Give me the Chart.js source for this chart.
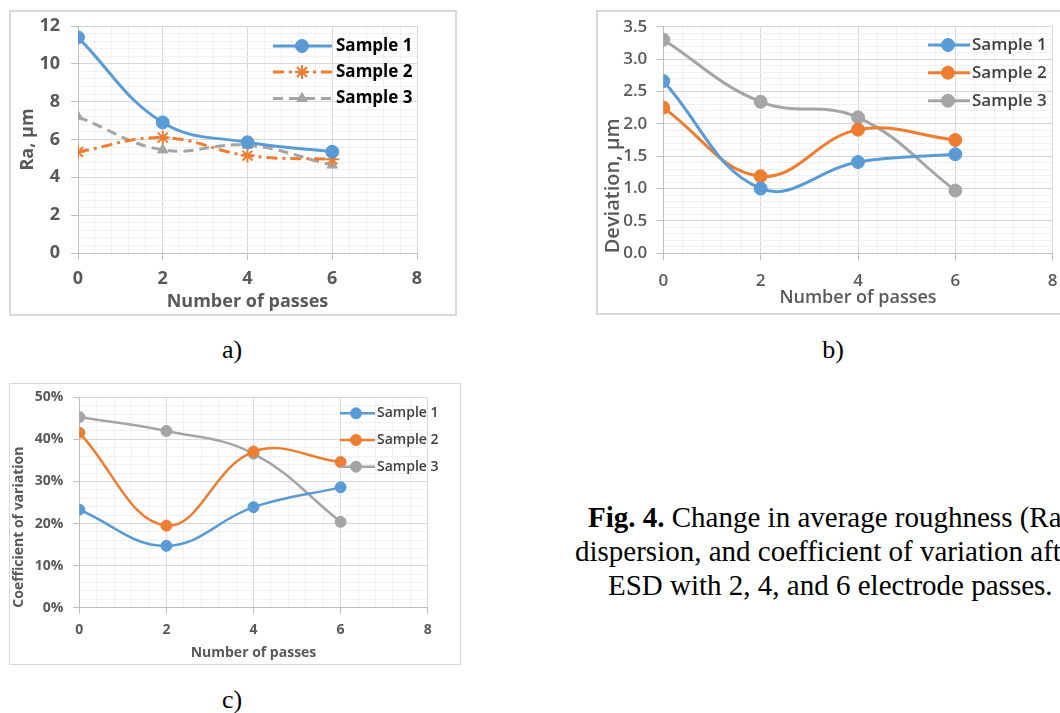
<!DOCTYPE html>
<html>
<head>
<meta charset="utf-8">
<script src="https://cdn.jsdelivr.net/npm/chart.js@4.4.1/dist/chart.umd.min.js"></script>
<style>
html, body { margin: 0; padding: 0; background: #fff; }
body { width: 1060px; height: 713px; overflow: hidden; position: relative; }
.frame { position: absolute; box-sizing: border-box; border: 2px solid #d9d9d9; background: #fff; }
.frame canvas { display: block; }
.lbl { position: absolute; font-family: "Liberation Serif", "Times New Roman", serif; font-size: 26px; color: #000; transform: translate(-50%, -50%); }
.cap { position: absolute; left: 0; font-family: "Liberation Serif", "Times New Roman", serif; font-size: 29px; white-space: nowrap; color: #000; line-height: 34px; }
</style>
</head>
<body>
<div class="frame" style="left:9px;top:10px;width:448px;height:306px"><canvas id="chartA"></canvas></div>
<div class="frame" style="left:596px;top:10px;width:480px;height:305px"><canvas id="chartB"></canvas></div>
<div class="frame" style="left:9px;top:383px;width:452px;height:282px;border-width:1px"><canvas id="chartC"></canvas></div>

<div class="lbl" style="left:232px;top:350px">a)</div>
<div class="lbl" style="left:833px;top:350px">b)</div>
<div class="lbl" style="left:232px;top:700px">c)</div>

<div class="cap" style="left:588px;top:500px"><b>Fig. 4.</b> Change in average roughness (Ra),</div>
<div class="cap" style="left:575px;top:534px">dispersion, and coefficient of variation after</div>
<div class="cap" style="left:608px;top:568px">ESD with 2, 4, and 6 electrode passes.</div>

<script>
// データ
const passes = [0, 2, 4, 6];
const seriesNames = ['Sample 1', 'Sample 2', 'Sample 3'];

// a) Ra, µm
const raS1 = [11.4, 6.9, 5.85, 5.35];
const raS2 = [5.35, 6.1, 5.15, 4.95];
const raS3 = [7.2, 5.45, 5.7, 4.65];

// b) Deviation, µm
const devS1 = [2.66, 1.0, 1.41, 1.53];
const devS2 = [2.25, 1.19, 1.91, 1.75];
const devS3 = [3.30, 2.34, 2.10, 0.97];

// c) Coefficient of variation, %
const cvS1 = [23.3, 14.7, 23.9, 28.6];
const cvS2 = [41.6, 19.5, 37.1, 34.6];
const cvS3 = [45.3, 42.0, 36.6, 20.4];

// 目盛り
const xTicks = [0, 2, 4, 6, 8];
const raTicks = [0, 2, 4, 6, 8, 10, 12];
const devTicks = [0, 0.5, 1, 1.5, 2, 2.5, 3, 3.5];
const cvTicks = [0, 10, 20, 30, 40, 50];

const BLUE = '#5b9bd5', ORANGE = '#ed7d31', GRAY = '#a5a5a5';

Chart.defaults.font.family = "'Open Sans', sans-serif";

function pts(vals) {
    return passes.map((x, i) => ({ x: x, y: vals[i] }));
}

function isMajor(v, list) {
    return list.some(t => Math.abs(t - v) < 1e-6);
}

// 主目盛り＋補助目盛り（Excel風）
function axis(o) {
    return {
        type: 'linear',
        min: o.ticks[0],
        max: o.ticks[o.ticks.length - 1],
        afterFit: s => {
            if (o.horizontal) s.height = o.size; else s.width = o.size;
            // ラベルのはみ出し分でプロット領域が縮まないように
            s.paddingTop = s.paddingBottom = s.paddingLeft = s.paddingRight = 0;
        },
        border: { color: '#bfbfbf', width: 1 },
        grid: {
            color: c => isMajor(c.tick.value, o.ticks) ? '#d9d9d9' : '#f0f0f0',
            tickColor: c => isMajor(c.tick.value, o.ticks) ? '#bfbfbf' : 'rgba(0,0,0,0)',
            tickLength: o.tl,
            lineWidth: 1
        },
        ticks: {
            stepSize: o.minor,
            autoSkip: false,
            maxRotation: 0,
            padding: o.pad,
            color: '#595959',
            font: o.font,
            callback: v => isMajor(v, o.ticks) ? o.fmt(v) : ''
        },
        title: {
            display: true,
            text: o.title,
            color: '#595959',
            font: o.tfont,
            padding: o.tpad,
            align: o.talign || 'center'
        }
    };
}

// グラフ内の凡例
const insideLegend = {
    id: 'insideLegend',
    afterDatasetsDraw(chart, args, opts) {
        const ctx = chart.ctx;
        ctx.save();
        chart.data.datasets.forEach((ds, i) => {
            const y = opts.y[i];
            ctx.strokeStyle = ds.borderColor;
            ctx.lineWidth = ds.borderWidth;
            ctx.setLineDash(ds.borderDash || []);
            ctx.beginPath();
            ctx.moveTo(opts.x0, y);
            ctx.lineTo(opts.x1, y);
            ctx.stroke();
            ctx.setLineDash([]);
            ctx.fillStyle = ds.pointBackgroundColor;
            ctx.strokeStyle = ds.pointBorderColor;
            ctx.lineWidth = ds.pointBorderWidth;
            if (Chart.helpers && Chart.helpers.drawPoint) {
                Chart.helpers.drawPoint(ctx, { pointStyle: ds.pointStyle, radius: ds.pointRadius, rotation: 0, borderWidth: ds.pointBorderWidth }, opts.xm, y);
            } else {
                ctx.beginPath();
                ctx.arc(opts.xm, y, ds.pointRadius, 0, Math.PI * 2);
                ctx.fill();
            }
            ctx.fillStyle = opts.color;
            ctx.font = opts.font;
            ctx.textBaseline = 'middle';
            ctx.textAlign = 'left';
            ctx.fillText(ds.label, opts.xt, y);
        });
        ctx.restore();
    }
};

function line(label, vals, color, extra) {
    return Object.assign({
        label: label,
        data: pts(vals),
        borderColor: color,
        backgroundColor: color,
        pointBackgroundColor: color,
        pointBorderColor: color,
        pointBorderWidth: 1,
        borderWidth: 3,
        pointRadius: 6.5,
        pointStyle: 'circle',
        tension: 0.4,
        fill: false
    }, extra || {});
}

function makeChart(id, datasets, padding, xAxis, yAxis, legend) {
    new Chart(document.getElementById(id), {
        type: 'line',
        data: { datasets: datasets },
        options: {
            responsive: true,
            maintainAspectRatio: false,
            animation: false,
            layout: { padding: padding },
            plugins: { legend: { display: false }, tooltip: { enabled: false }, insideLegend: legend },
            scales: { x: xAxis, y: yAxis }
        },
        plugins: [insideLegend]
    });
}

// a)
makeChart('chartA', [
    line(seriesNames[0], raS1, BLUE),
    line(seriesNames[1], raS2, ORANGE, { borderDash: [11, 5, 3, 5], pointStyle: 'star', pointRadius: 7, pointBorderWidth: 2, pointBackgroundColor: 'rgba(0,0,0,0)' }),
    line(seriesNames[2], raS3, GRAY, { borderDash: [10, 6], pointStyle: 'triangle', pointRadius: 6 })
], { left: 0, top: 14, right: 38, bottom: 0 },
    axis({ horizontal: true, size: 61, ticks: xTicks, minor: 0.4, tl: 7, pad: 8.5, fmt: v => String(v),
        font: { size: 18, weight: 'bold' }, title: 'Number of passes', tfont: { size: 18, weight: 'bold' }, tpad: { top: 0, bottom: 1.5 } }),
    axis({ size: 67, ticks: raTicks, minor: 0.4, tl: 7, pad: 11, fmt: v => String(v),
        font: { size: 18, weight: 'bold' }, title: 'Ra, µm', tfont: { size: 18, weight: 'bold' }, tpad: { top: 6.5, bottom: 0 } }),
    { x0: 262, x1: 321, xm: 291, xt: 325, y: [34, 60, 86.5], color: '#000', font: "bold 17px 'Open Sans'" }
);

// b)
makeChart('chartB', [
    line(seriesNames[0], devS1, BLUE),
    line(seriesNames[1], devS2, ORANGE),
    line(seriesNames[2], devS3, GRAY)
], { left: 0, top: 14.7, right: 21.3, bottom: 0 },
    axis({ horizontal: true, size: 59.7, ticks: xTicks, minor: 0.4, tl: 7, pad: 11, fmt: v => String(v),
        font: { size: 17, weight: '600' }, title: 'Number of passes', tfont: { size: 18, weight: '600' }, tpad: { top: 0, bottom: 3.9 } }),
    axis({ size: 65.3, ticks: devTicks, minor: 0.1, tl: 7, pad: 9, fmt: v => v.toFixed(1),
        font: { size: 17, weight: '600' }, title: 'Deviation, µm', tfont: { size: 20, weight: '600' }, tpad: { top: 3, bottom: 0 }, talign: 'start' }),
    { x0: 330, x1: 372, xm: 350, xt: 374, y: [33, 60.7, 88.7], color: '#404040', font: "600 17px 'Open Sans'" }
);

// c)
makeChart('chartC', [
    line(seriesNames[0], cvS1, BLUE, { borderWidth: 2.5, pointRadius: 5.5 }),
    line(seriesNames[1], cvS2, ORANGE, { borderWidth: 2.5, pointRadius: 5.5 }),
    line(seriesNames[2], cvS3, GRAY, { borderWidth: 2.5, pointRadius: 5.5 })
], { left: 0, top: 13.3, right: 32.3, bottom: 0 },
    axis({ horizontal: true, size: 56.3, ticks: xTicks, minor: 0.4, tl: 6, pad: 7.9, fmt: v => String(v),
        font: { size: 14, weight: 'bold' }, title: 'Number of passes', tfont: { size: 14, weight: 'bold' }, tpad: { top: 0, bottom: 2.9 } }),
    axis({ size: 69.3, ticks: cvTicks, minor: 2, tl: 6, pad: 10, fmt: v => v + '%',
        font: { size: 14, weight: 'bold' }, title: 'Coefficient of variation', tfont: { size: 14, weight: 'bold' }, tpad: { top: 0.5, bottom: 0 }, talign: 'start' }),
    { x0: 330, x1: 365, xm: 346, xt: 367, y: [29.3, 56, 82.7], color: '#404040', font: "600 14px 'Open Sans'" }
);
</script>
</body>
</html>
